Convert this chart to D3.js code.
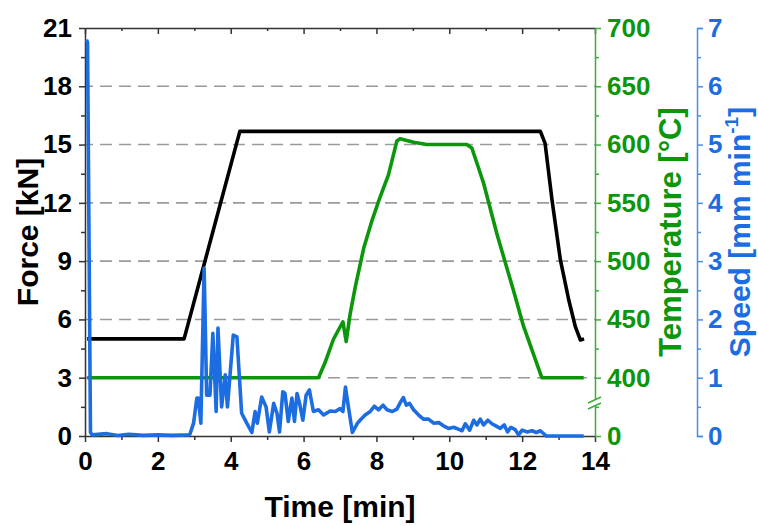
<!DOCTYPE html>
<html>
<head>
<meta charset="utf-8">
<script src="https://cdn.jsdelivr.net/npm/d3@7"></script>
<style>
body { margin: 0; background: #fff; }
text { font-family: "Liberation Sans", Arial, sans-serif; font-weight: bold; }
</style>
</head>
<body>
<div id="chart"></div>
<script>
// time axis ticks
var timeTicks = [0, 2, 4, 6, 8, 10, 12, 14];
var forceTicks = [0, 3, 6, 9, 12, 15, 18, 21];
var tempTicks = [0, 400, 450, 500, 550, 600, 650, 700];
var speedTicks = [0, 1, 2, 3, 4, 5, 6, 7];

// force (black)
var timeF = [0.06, 2.72, 4.25, 12.5, 12.63, 12.82, 13.05, 13.28, 13.46, 13.6, 13.7];
var force = [5.0, 5.0, 15.68, 15.68, 15.06, 12.15, 9.06, 7.0, 5.63, 4.94, 5.0];

// temperature (green)
var timeT = [0.06, 6.41, 6.59, 6.82, 7.08, 7.17, 7.28, 7.42, 7.65, 7.88, 8.10, 8.33, 8.56, 8.65,
    9.02, 9.38, 10.48, 10.62, 10.76, 10.94, 11.31, 11.77, 12.04, 12.54, 13.69];
var temp = [400, 400, 413, 433, 448, 431, 455, 478, 511, 535, 555, 574, 603, 605,
    602, 600, 600, 597, 584, 567, 523, 474, 444, 400, 400];

// speed (blue)
var timeS = [0.04, 0.07, 0.15, 0.2, 0.6, 0.9, 1.2, 1.6, 2.0, 2.4, 2.85,
    2.88, 2.98, 3.07, 3.11, 3.18, 3.27, 3.34, 3.43, 3.51, 3.60, 3.65, 3.75, 3.85, 3.91,
    4.07, 4.17, 4.30, 4.44, 4.58, 4.67, 4.73, 4.85, 4.97, 5.06, 5.18, 5.27, 5.34, 5.43,
    5.49, 5.58, 5.68, 5.75, 5.82, 5.89, 5.98, 6.07, 6.16, 6.27, 6.41, 6.55, 6.73, 6.87,
    7.00, 7.08, 7.15, 7.23, 7.34, 7.48, 7.55, 7.69, 7.83, 7.94, 8.06, 8.18, 8.29, 8.43,
    8.56, 8.67, 8.74, 8.82, 8.91, 9.02, 9.16, 9.29, 9.43, 9.57, 9.71, 9.85, 9.98, 10.12,
    10.28, 10.35, 10.44, 10.56, 10.67, 10.76, 10.85, 10.94, 11.06, 11.17, 11.29, 11.40,
    11.51, 11.60, 11.69, 11.81, 11.90, 12.00, 12.13, 12.27, 12.39, 12.50, 12.61, 12.66, 13.69];
var speed = [6.8, 6.75, 0.06, 0.02, 0.04, 0.01, 0.03, 0.01, 0.02, 0.01, 0.02,
    0.03, 0.22, 0.65, 0.65, 0.22, 2.88, 0.70, 0.70, 1.76, 0.42, 1.85, 0.50, 1.05, 0.50,
    1.73, 1.70, 0.39, 0.22, 0.06, 0.42, 0.22, 0.67, 0.50, 0.07, 0.56, 0.39, 0.07, 0.76,
    0.73, 0.25, 0.65, 0.25, 0.73, 0.56, 0.27, 0.70, 0.79, 0.42, 0.45, 0.36, 0.43, 0.42,
    0.47, 0.42, 0.84, 0.50, 0.06, 0.22, 0.27, 0.36, 0.42, 0.51, 0.45, 0.53, 0.45, 0.42,
    0.46, 0.59, 0.66, 0.53, 0.56, 0.45, 0.36, 0.29, 0.29, 0.22, 0.23, 0.17, 0.13, 0.15,
    0.11, 0.09, 0.21, 0.10, 0.27, 0.19, 0.29, 0.19, 0.27, 0.21, 0.17, 0.13,
    0.19, 0.07, 0.15, 0.11, 0.02, 0.10, 0.07, 0.09, 0.06, 0.09, 0.03, 0.0, 0.0];

function init()
{
    const width = 758;
    const height = 526;
    var left = 85, right = 595, top = 28, bottom = 436;
    var speedX = 697;

    var green = "#0b960b";
    var greenAxis = "#3aad3a";
    var blue = "#1c6de2";
    var blueAxis = "#4a8ee6";

    var x = d3.scaleLinear().domain([0, 14]).range([left, right]);
    var yF = d3.scaleLinear().domain([0, 21]).range([bottom, top]);
    var yT = d3.scaleLinear().domain([0, 400, 700]).range([bottom, yF(3), top]);
    var yS = d3.scaleLinear().domain([0, 7]).range([bottom, top]);

    var svg = d3.select("#chart")
        .append("svg")
        .attr("width", width)
        .attr("height", height);

    svg.append("rect").attr("width", width).attr("height", height).attr("fill", "#fff");

    // dashed grid
    svg.append("g")
        .selectAll("line")
        .data(forceTicks.slice(1, -1))
        .enter()
        .append("line")
        .attr("x1", left + 1)
        .attr("x2", right)
        .attr("y1", function(d){ return yF(d); })
        .attr("y2", function(d){ return yF(d); })
        .attr("stroke", "#9a9a9a")
        .attr("stroke-width", 1.6)
        .attr("stroke-dasharray", "12,7")
        .attr("stroke-dashoffset", -14);

    // top frame with inward ticks
    svg.append("g")
        .attr("transform", "translate(0," + top + ")")
        .call(d3.axisBottom(x).tickValues(timeTicks).tickSize(6).tickSizeOuter(0).tickFormat(""))
        .call(function(g){ g.selectAll("line,path").attr("stroke", "#333").attr("stroke-width", 1.5); });
    svg.append("g")
        .attr("transform", "translate(0," + top + ")")
        .call(d3.axisBottom(x).tickValues([1, 3, 5, 7, 9, 11, 13]).tickSize(3).tickSizeOuter(0).tickFormat(""))
        .call(function(g){ g.select("path").remove(); g.selectAll("line").attr("stroke", "#333").attr("stroke-width", 1.5); });

    // bottom axis
    var xAxis = svg.append("g")
        .attr("transform", "translate(0," + bottom + ")")
        .call(d3.axisBottom(x).tickValues(timeTicks).tickSize(6).tickSizeOuter(0).tickPadding(10));
    xAxis.selectAll("line,path").attr("stroke", "#333").attr("stroke-width", 1.5);
    xAxis.selectAll("text").attr("font-size", 26).attr("fill", "#000");
    svg.append("g")
        .attr("transform", "translate(0," + bottom + ")")
        .call(d3.axisBottom(x).tickValues([1, 3, 5, 7, 9, 11, 13]).tickSize(4).tickSizeOuter(0).tickFormat(""))
        .call(function(g){ g.select("path").remove(); g.selectAll("line").attr("stroke", "#333").attr("stroke-width", 1.5); });

    // left force axis
    var fAxis = svg.append("g")
        .attr("transform", "translate(" + left + ",0)")
        .call(d3.axisLeft(yF).tickValues(forceTicks).tickSize(6).tickSizeOuter(0).tickPadding(7));
    fAxis.selectAll("line,path").attr("stroke", "#333").attr("stroke-width", 1.5);
    fAxis.selectAll("text").attr("font-size", 26).attr("fill", "#000");
    svg.append("g")
        .attr("transform", "translate(" + left + ",0)")
        .call(d3.axisLeft(yF).tickValues([1.5, 4.5, 7.5, 10.5, 13.5, 16.5, 19.5]).tickSize(4).tickFormat(""))
        .call(function(g){ g.select("path").remove(); g.selectAll("line").attr("stroke", "#333").attr("stroke-width", 1.5); });

    // right temperature axis
    var tAxis = svg.append("g")
        .attr("transform", "translate(" + right + ",0)")
        .call(d3.axisRight(yT).tickValues(tempTicks).tickSize(6).tickSizeOuter(0).tickPadding(6));
    tAxis.selectAll("line,path").attr("stroke", greenAxis).attr("stroke-width", 1.5);
    tAxis.selectAll("text").attr("font-size", 26).attr("fill", green);
    svg.append("g")
        .attr("transform", "translate(" + right + ",0)")
        .call(d3.axisRight(yT).tickValues([200, 425, 475, 525, 575, 625, 675]).tickSize(4).tickFormat(""))
        .call(function(g){ g.select("path").remove(); g.selectAll("line").attr("stroke", greenAxis).attr("stroke-width", 1.5); });

    // axis break
    svg.append("rect").attr("x", right - 3).attr("y", 400).attr("width", 6).attr("height", 6).attr("fill", "#fff");
    svg.append("line").attr("x1", right - 7).attr("y1", 403).attr("x2", right + 6).attr("y2", 397)
        .attr("stroke", greenAxis).attr("stroke-width", 1.5);
    svg.append("line").attr("x1", right - 7).attr("y1", 409).attr("x2", right + 6).attr("y2", 403)
        .attr("stroke", greenAxis).attr("stroke-width", 1.5);

    // speed axis
    var sAxis = svg.append("g")
        .attr("transform", "translate(" + speedX + ",0)")
        .call(d3.axisRight(yS).tickValues(speedTicks).tickSize(6).tickSizeOuter(6).tickPadding(5).tickFormat(d3.format("d")));
    sAxis.selectAll("line,path").attr("stroke", blueAxis).attr("stroke-width", 1.5);
    sAxis.selectAll("text").attr("font-size", 26).attr("fill", blue);
    svg.append("g")
        .attr("transform", "translate(" + speedX + ",0)")
        .call(d3.axisRight(yS).tickValues([0.5, 1.5, 2.5, 3.5, 4.5, 5.5, 6.5]).tickSize(4).tickFormat(""))
        .call(function(g){ g.select("path").remove(); g.selectAll("line").attr("stroke", blueAxis).attr("stroke-width", 1.5); });

    // lines
    var lineF = d3.line()
        .x(function(d){ return x(d[0]); })
        .y(function(d){ return yF(d[1]); });
    var lineT = d3.line()
        .x(function(d){ return x(d[0]); })
        .y(function(d){ return yT(d[1]); });
    var lineS = d3.line()
        .x(function(d){ return x(d[0]); })
        .y(function(d){ return yS(d[1]); });

    svg.append("path")
        .attr("d", lineF(d3.zip(timeF, force)))
        .attr("fill", "none").attr("stroke", "#000").attr("stroke-width", 3.6)
        .attr("stroke-linejoin", "round");
    svg.append("path")
        .attr("d", lineT(d3.zip(timeT, temp)))
        .attr("fill", "none").attr("stroke", "#0c960c").attr("stroke-width", 3.6)
        .attr("stroke-linejoin", "round");
    svg.append("path")
        .attr("d", lineS(d3.zip(timeS, speed)))
        .attr("fill", "none").attr("stroke", blue).attr("stroke-width", 3.6)
        .attr("stroke-linejoin", "round");

    // titles
    svg.append("text")
        .attr("x", (left + right) / 2).attr("y", 517)
        .attr("text-anchor", "middle").attr("font-size", 30).attr("fill", "#000")
        .text("Time [min]");
    svg.append("text")
        .attr("transform", "translate(38," + ((top + bottom) / 2) + ") rotate(-90)")
        .attr("text-anchor", "middle").attr("font-size", 30).attr("fill", "#000")
        .text("Force [kN]");
    svg.append("text")
        .attr("transform", "translate(681," + ((top + bottom) / 2) + ") rotate(-90)")
        .attr("text-anchor", "middle").attr("font-size", 31).attr("fill", green)
        .text("Temperature [°C]");
    var st = svg.append("text")
        .attr("transform", "translate(750," + ((top + bottom) / 2) + ") rotate(-90)")
        .attr("text-anchor", "middle").attr("font-size", 30).attr("fill", blue);
    st.append("tspan").text("Speed [mm min");
    st.append("tspan").attr("font-size", 19).attr("dy", -12).text("-1");
    st.append("tspan").attr("dy", 12).text("]");
}

init();
</script>
</body>
</html>
